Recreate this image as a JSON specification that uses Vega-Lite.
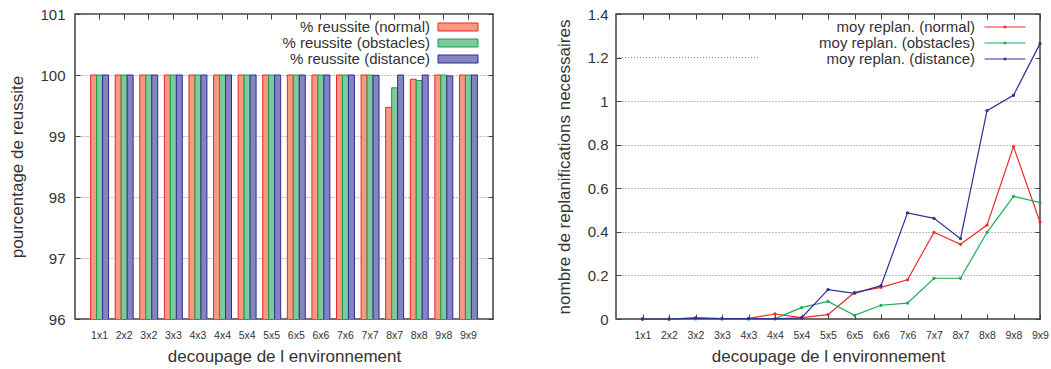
{
  "$schema": "https://vega.github.io/schema/vega-lite/v6.json",
  "padding": {"left": 8, "top": 6, "right": 0, "bottom": 0},
  "background": "white",
  "resolve": {"scale": {"fill": "independent", "stroke": "independent"}},
  "config": {
    "font": "Liberation Sans",
    "view": {"stroke": "#404040", "strokeWidth": 1.5},
    "axis": {
      "labelFont": "Liberation Sans",
      "titleFont": "Liberation Sans",
      "labelColor": "#333333",
      "titleColor": "#333333",
      "titleFontWeight": "normal",
      "titleFontSize": 17,
      "domain": false,
      "tickColor": "#404040",
      "tickSize": -5,
      "tickWidth": 1,
      "gridColor": "#808080",
      "gridDash": [1, 2],
      "gridWidth": 1,
      "labelOverlap": false,
      "labelFlush": false,
      "labelBound": false
    },
    "legend": {"labelFont": "Liberation Sans", "labelFontSize": 15, "labelColor": "#333333"},
    "concat": {"spacing": 59}
  },
  "datasets": {
    "reussite": [
      {"decoupage": "1x1", "serie": "% reussite (normal)", "valeur": 100},
      {"decoupage": "1x1", "serie": "% reussite (obstacles)", "valeur": 100},
      {"decoupage": "1x1", "serie": "% reussite (distance)", "valeur": 100},
      {"decoupage": "2x2", "serie": "% reussite (normal)", "valeur": 100},
      {"decoupage": "2x2", "serie": "% reussite (obstacles)", "valeur": 100},
      {"decoupage": "2x2", "serie": "% reussite (distance)", "valeur": 100},
      {"decoupage": "3x2", "serie": "% reussite (normal)", "valeur": 100},
      {"decoupage": "3x2", "serie": "% reussite (obstacles)", "valeur": 100},
      {"decoupage": "3x2", "serie": "% reussite (distance)", "valeur": 100},
      {"decoupage": "3x3", "serie": "% reussite (normal)", "valeur": 100},
      {"decoupage": "3x3", "serie": "% reussite (obstacles)", "valeur": 100},
      {"decoupage": "3x3", "serie": "% reussite (distance)", "valeur": 100},
      {"decoupage": "4x3", "serie": "% reussite (normal)", "valeur": 100},
      {"decoupage": "4x3", "serie": "% reussite (obstacles)", "valeur": 100},
      {"decoupage": "4x3", "serie": "% reussite (distance)", "valeur": 100},
      {"decoupage": "4x4", "serie": "% reussite (normal)", "valeur": 100},
      {"decoupage": "4x4", "serie": "% reussite (obstacles)", "valeur": 100},
      {"decoupage": "4x4", "serie": "% reussite (distance)", "valeur": 100},
      {"decoupage": "5x4", "serie": "% reussite (normal)", "valeur": 100},
      {"decoupage": "5x4", "serie": "% reussite (obstacles)", "valeur": 100},
      {"decoupage": "5x4", "serie": "% reussite (distance)", "valeur": 100},
      {"decoupage": "5x5", "serie": "% reussite (normal)", "valeur": 100},
      {"decoupage": "5x5", "serie": "% reussite (obstacles)", "valeur": 100},
      {"decoupage": "5x5", "serie": "% reussite (distance)", "valeur": 100},
      {"decoupage": "6x5", "serie": "% reussite (normal)", "valeur": 100},
      {"decoupage": "6x5", "serie": "% reussite (obstacles)", "valeur": 100},
      {"decoupage": "6x5", "serie": "% reussite (distance)", "valeur": 100},
      {"decoupage": "6x6", "serie": "% reussite (normal)", "valeur": 100},
      {"decoupage": "6x6", "serie": "% reussite (obstacles)", "valeur": 100},
      {"decoupage": "6x6", "serie": "% reussite (distance)", "valeur": 100},
      {"decoupage": "7x6", "serie": "% reussite (normal)", "valeur": 100},
      {"decoupage": "7x6", "serie": "% reussite (obstacles)", "valeur": 100},
      {"decoupage": "7x6", "serie": "% reussite (distance)", "valeur": 100},
      {"decoupage": "7x7", "serie": "% reussite (normal)", "valeur": 100},
      {"decoupage": "7x7", "serie": "% reussite (obstacles)", "valeur": 100},
      {"decoupage": "7x7", "serie": "% reussite (distance)", "valeur": 99.995},
      {"decoupage": "8x7", "serie": "% reussite (normal)", "valeur": 99.47},
      {"decoupage": "8x7", "serie": "% reussite (obstacles)", "valeur": 99.79},
      {"decoupage": "8x7", "serie": "% reussite (distance)", "valeur": 100},
      {"decoupage": "8x8", "serie": "% reussite (normal)", "valeur": 99.93},
      {"decoupage": "8x8", "serie": "% reussite (obstacles)", "valeur": 99.91},
      {"decoupage": "8x8", "serie": "% reussite (distance)", "valeur": 100},
      {"decoupage": "9x8", "serie": "% reussite (normal)", "valeur": 100},
      {"decoupage": "9x8", "serie": "% reussite (obstacles)", "valeur": 100},
      {"decoupage": "9x8", "serie": "% reussite (distance)", "valeur": 99.985},
      {"decoupage": "9x9", "serie": "% reussite (normal)", "valeur": 100},
      {"decoupage": "9x9", "serie": "% reussite (obstacles)", "valeur": 100},
      {"decoupage": "9x9", "serie": "% reussite (distance)", "valeur": 100}
    ],
    "replan": [
      {"decoupage": "1x1", "i": 1, "serie": "moy replan. (normal)", "moy": 0},
      {"decoupage": "2x2", "i": 2, "serie": "moy replan. (normal)", "moy": 0},
      {"decoupage": "3x2", "i": 3, "serie": "moy replan. (normal)", "moy": 0.005},
      {"decoupage": "3x3", "i": 4, "serie": "moy replan. (normal)", "moy": 0.002},
      {"decoupage": "4x3", "i": 5, "serie": "moy replan. (normal)", "moy": 0.003},
      {"decoupage": "4x4", "i": 6, "serie": "moy replan. (normal)", "moy": 0.023},
      {"decoupage": "5x4", "i": 7, "serie": "moy replan. (normal)", "moy": 0.006},
      {"decoupage": "5x5", "i": 8, "serie": "moy replan. (normal)", "moy": 0.02},
      {"decoupage": "6x5", "i": 9, "serie": "moy replan. (normal)", "moy": 0.122},
      {"decoupage": "6x6", "i": 10, "serie": "moy replan. (normal)", "moy": 0.145},
      {"decoupage": "7x6", "i": 11, "serie": "moy replan. (normal)", "moy": 0.18},
      {"decoupage": "7x7", "i": 12, "serie": "moy replan. (normal)", "moy": 0.398},
      {"decoupage": "8x7", "i": 13, "serie": "moy replan. (normal)", "moy": 0.343},
      {"decoupage": "8x8", "i": 14, "serie": "moy replan. (normal)", "moy": 0.431},
      {"decoupage": "9x8", "i": 15, "serie": "moy replan. (normal)", "moy": 0.791},
      {"decoupage": "9x9", "i": 16, "serie": "moy replan. (normal)", "moy": 0.445},
      {"decoupage": "1x1", "i": 1, "serie": "moy replan. (obstacles)", "moy": 0},
      {"decoupage": "2x2", "i": 2, "serie": "moy replan. (obstacles)", "moy": 0},
      {"decoupage": "3x2", "i": 3, "serie": "moy replan. (obstacles)", "moy": 0},
      {"decoupage": "3x3", "i": 4, "serie": "moy replan. (obstacles)", "moy": 0},
      {"decoupage": "4x3", "i": 5, "serie": "moy replan. (obstacles)", "moy": 0},
      {"decoupage": "4x4", "i": 6, "serie": "moy replan. (obstacles)", "moy": 0.002},
      {"decoupage": "5x4", "i": 7, "serie": "moy replan. (obstacles)", "moy": 0.052},
      {"decoupage": "5x5", "i": 8, "serie": "moy replan. (obstacles)", "moy": 0.081},
      {"decoupage": "6x5", "i": 9, "serie": "moy replan. (obstacles)", "moy": 0.017},
      {"decoupage": "6x6", "i": 10, "serie": "moy replan. (obstacles)", "moy": 0.063},
      {"decoupage": "7x6", "i": 11, "serie": "moy replan. (obstacles)", "moy": 0.073},
      {"decoupage": "7x7", "i": 12, "serie": "moy replan. (obstacles)", "moy": 0.187},
      {"decoupage": "8x7", "i": 13, "serie": "moy replan. (obstacles)", "moy": 0.187},
      {"decoupage": "8x8", "i": 14, "serie": "moy replan. (obstacles)", "moy": 0.398},
      {"decoupage": "9x8", "i": 15, "serie": "moy replan. (obstacles)", "moy": 0.563},
      {"decoupage": "9x9", "i": 16, "serie": "moy replan. (obstacles)", "moy": 0.534},
      {"decoupage": "1x1", "i": 1, "serie": "moy replan. (distance)", "moy": 0},
      {"decoupage": "2x2", "i": 2, "serie": "moy replan. (distance)", "moy": 0},
      {"decoupage": "3x2", "i": 3, "serie": "moy replan. (distance)", "moy": 0.004},
      {"decoupage": "3x3", "i": 4, "serie": "moy replan. (distance)", "moy": 0.002},
      {"decoupage": "4x3", "i": 5, "serie": "moy replan. (distance)", "moy": 0.002},
      {"decoupage": "4x4", "i": 6, "serie": "moy replan. (distance)", "moy": 0.001},
      {"decoupage": "5x4", "i": 7, "serie": "moy replan. (distance)", "moy": 0.005},
      {"decoupage": "5x5", "i": 8, "serie": "moy replan. (distance)", "moy": 0.135},
      {"decoupage": "6x5", "i": 9, "serie": "moy replan. (distance)", "moy": 0.118},
      {"decoupage": "6x6", "i": 10, "serie": "moy replan. (distance)", "moy": 0.153},
      {"decoupage": "7x6", "i": 11, "serie": "moy replan. (distance)", "moy": 0.487},
      {"decoupage": "7x7", "i": 12, "serie": "moy replan. (distance)", "moy": 0.462},
      {"decoupage": "8x7", "i": 13, "serie": "moy replan. (distance)", "moy": 0.369},
      {"decoupage": "8x8", "i": 14, "serie": "moy replan. (distance)", "moy": 0.956},
      {"decoupage": "9x8", "i": 15, "serie": "moy replan. (distance)", "moy": 1.027},
      {"decoupage": "9x9", "i": 16, "serie": "moy replan. (distance)", "moy": 1.264}
    ],
    "grille": [
      {"i": 0, "i2": 5.4, "moy": 1.2}
    ]
  },
  "hconcat": [
    {
      "width": 418,
      "height": 305,
      "data": {"name": "reussite"},
      "resolve": {"axis": {"x": "independent", "y": "independent"}},
      "layer": [
        {
          "mark": {"type": "bar", "strokeWidth": 1, "clip": true, "fillOpacity": 1},
          "encoding": {
            "x": {
              "field": "decoupage", "type": "nominal", "sort": null,
              "scale": {"paddingInner": 0.27, "paddingOuter": 0.635},
              "title": "decoupage de l environnement",
              "axis": {"orient": "bottom", "labelAngle": 0, "labelFontSize": 10.5, "labelPadding": 16, "titlePadding": 8, "grid": false}
            },
            "xOffset": {
              "field": "serie", "type": "nominal",
              "sort": ["% reussite (normal)", "% reussite (obstacles)", "% reussite (distance)"],
              "scale": {"paddingInner": 0, "paddingOuter": 0}
            },
            "y": {
              "field": "valeur", "type": "quantitative",
              "scale": {"domain": [96, 101], "zero": false, "nice": false},
              "title": "pourcentage de reussite",
              "axis": {"orient": "left", "values": [96, 97, 98, 99, 100, 101], "format": "d", "labelFontSize": 15, "labelPadding": 15, "titlePadding": 13, "grid": true}
            },
            "fill": {
              "field": "serie", "type": "nominal",
              "scale": {"domain": ["% reussite (normal)", "% reussite (obstacles)", "% reussite (distance)"], "range": ["#f59a7e", "#80c99c", "#8683c2"]},
              "legend": {
                "title": null, "orient": "none", "legendX": 373.5, "legendY": 5.5, "padding": 0, "rowPadding": -1.5,
                "labelAlign": "right", "labelOffset": -35.5, "symbolOffset": 2, "symbolType": "M-4,-0.8H4V0.8H-4Z", "symbolSize": 100, "symbolStrokeWidth": 1, "symbolOpacity": 1,
                "encode": {"symbols": {"update": {"stroke": {"signal": "['#e8262b','#13a04f','#2d2d8f'][datum.index]"}}}}
              }
            },
            "stroke": {
              "field": "serie", "type": "nominal",
              "scale": {"domain": ["% reussite (normal)", "% reussite (obstacles)", "% reussite (distance)"], "range": ["#e8262b", "#13a04f", "#2d2d8f"]},
              "legend": null
            }
          }
        },
        {
          "mark": {"type": "tick", "opacity": 0},
          "encoding": {
            "x": {"field": "decoupage", "type": "nominal", "sort": null, "axis": {"orient": "top", "labels": false, "title": null, "grid": false}},
            "y": {"field": "valeur", "type": "quantitative", "axis": {"orient": "right", "labels": false, "title": null, "values": [96, 97, 98, 99, 100, 101], "grid": false}}
          }
        }
      ]
    },
    {
      "width": 424,
      "height": 305,
      "resolve": {"axis": {"x": "independent", "y": "independent"}},
      "layer": [
        {
          "data": {"name": "replan"},
          "mark": {"type": "rule", "opacity": 0},
          "encoding": {
            "y": {"field": "moy", "type": "quantitative", "axis": {"orient": "left", "values": [0.2, 0.4, 0.6, 0.8, 1.0], "grid": true, "labels": false, "ticks": false, "title": null}}
          }
        },
        {
          "data": {"name": "grille"},
          "mark": {"type": "rule", "color": "#808080", "strokeDash": [1, 2], "strokeWidth": 1},
          "encoding": {
            "x": {"field": "i", "type": "quantitative", "axis": null},
            "x2": {"field": "i2"},
            "y": {"field": "moy", "type": "quantitative", "axis": null}
          }
        },
        {
          "data": {"name": "replan"},
          "mark": {"type": "line", "strokeWidth": 1.2},
          "encoding": {
            "x": {
              "field": "i", "type": "quantitative",
              "scale": {"domain": [0, 16], "nice": false, "zero": false},
              "title": "decoupage de l environnement",
              "axis": {"orient": "bottom", "values": [1, 2, 3, 4, 5, 6, 7, 8, 9, 10, 11, 12, 13, 14, 15, 16], "labelExpr": "['','1x1','2x2','3x2','3x3','4x3','4x4','5x4','5x5','6x5','6x6','7x6','7x7','8x7','8x8','9x8','9x9'][datum.value]", "labelFontSize": 10.5, "labelPadding": 16, "titlePadding": 8, "grid": false}
            },
            "y": {
              "field": "moy", "type": "quantitative",
              "scale": {"domain": [0, 1.4], "nice": false},
              "title": "nombre de replanifications necessaires",
              "axis": {"orient": "left", "values": [0, 0.2, 0.4, 0.6, 0.8, 1, 1.2, 1.4], "format": "~g", "labelFontSize": 15, "labelPadding": 13, "titlePadding": 14, "grid": false}
            },
            "stroke": {
              "field": "serie", "type": "nominal",
              "scale": {"domain": ["moy replan. (normal)", "moy replan. (obstacles)", "moy replan. (distance)"], "range": ["#ee2a2a", "#1faa55", "#2f2f96"]},
              "legend": {"title": null, "orient": "none", "legendX": 379.5, "legendY": 5.5, "padding": 0, "rowPadding": -1.5, "labelAlign": "right", "labelOffset": -37.5, "symbolOffset": 2, "symbolType": "M-4.1,0H4.1M-0.15,-0.15H0.15V0.15H-0.15Z", "symbolSize": 100, "symbolStrokeWidth": 1.2}
            }
          }
        },
        {
          "data": {"name": "replan"},
          "mark": {"type": "point", "filled": false, "size": 3, "strokeWidth": 1.5, "opacity": 1},
          "encoding": {
            "x": {"field": "i", "type": "quantitative", "axis": {"orient": "top", "labels": false, "title": null, "values": [1, 2, 3, 4, 5, 6, 7, 8, 9, 10, 11, 12, 13, 14, 15, 16], "grid": false}},
            "y": {"field": "moy", "type": "quantitative", "axis": {"orient": "right", "labels": false, "title": null, "values": [0, 0.2, 0.4, 0.6, 0.8, 1, 1.2, 1.4], "grid": false}},
            "stroke": {"field": "serie", "type": "nominal", "legend": null}
          }
        }
      ]
    }
  ]
}
